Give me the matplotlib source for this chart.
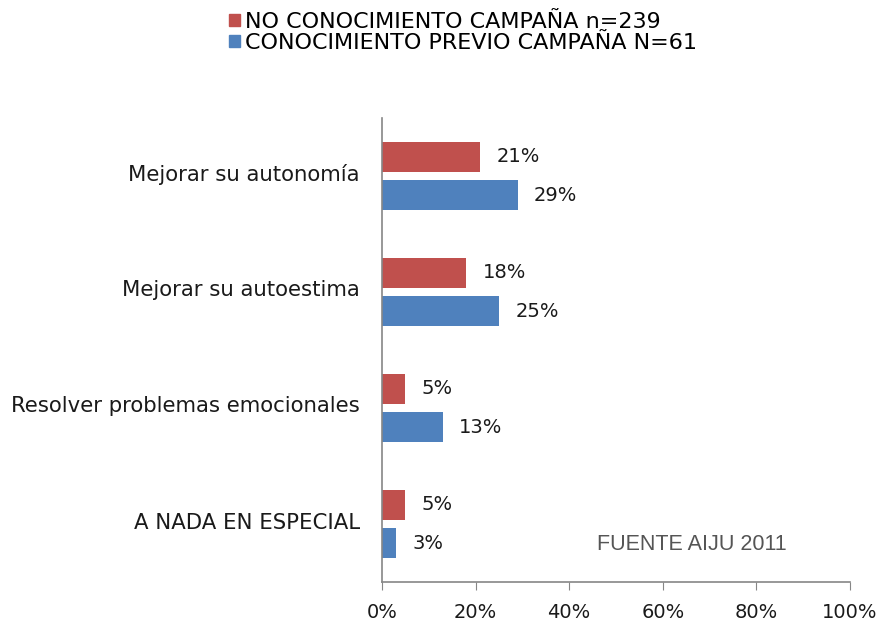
import matplotlib.pyplot as plt
import numpy as np
from matplotlib.patches import Patch

### DATA ###

categories = ["Mejorar su autonomía", "Mejorar su autoestima",
              "Resolver problemas emocionales", "A NADA EN ESPECIAL"]
no_conocimiento = [21, 18, 5, 5]
conocimiento_previo = [29, 25, 13, 3]
series_labels = ["NO CONOCIMIENTO CAMPAÑA n=239", "CONOCIMIENTO PREVIO CAMPAÑA N=61"]
x_ticks = [0, 20, 40, 60, 80, 100]

RED = "#C0504D"
BLUE = "#4F81BD"
GREY = "#868686"
TEXT = "#1a1a1a"

plt.rcParams['font.family'] = ['DejaVu Sans']

### PLOT ###

fig = plt.figure(figsize=(8.8, 6.34), dpi=100)
ax = fig.add_axes([0.434, 0.082, 0.532, 0.732])

y = np.arange(len(categories))
h = 0.26
off = 0.165
ax.barh(y - off, no_conocimiento, height=h, color=RED)
ax.barh(y + off, conocimiento_previo, height=h, color=BLUE)

for yi, v in zip(y, no_conocimiento):
    ax.text(v + 3.5, yi - off, f"{v}%", va="center", ha="left", fontsize=14, color=TEXT)
for yi, v in zip(y, conocimiento_previo):
    ax.text(v + 3.5, yi + off, f"{v}%", va="center", ha="left", fontsize=14, color=TEXT)

ax.set_xlim(0, 100)
ax.set_ylim(3.5, -0.5)
ax.set_xticks(x_ticks, [f"{t}%" for t in x_ticks], fontsize=14, color=TEXT)
ax.set_yticks(y - 0.03, categories, fontsize=15.3, color=TEXT)
ax.tick_params(axis="x", direction="out", length=6, color=GREY, pad=9)
ax.tick_params(axis="y", length=0, pad=16)

for s in ["top", "right"]:
    ax.spines[s].set_visible(False)
for s in ["left", "bottom"]:
    ax.spines[s].set_color(GREY)
    ax.spines[s].set_linewidth(1.2)

ax.text(0.46, 0.08, "FUENTE AIJU 2011", transform=ax.transAxes, fontsize=15.5,
        color="#555555", ha="left", va="center", family=["Liberation Sans Narrow", "Liberation Sans"])

handles = [Patch(color=RED), Patch(color=BLUE)]
fig.legend(handles, series_labels, loc="upper left", bbox_to_anchor=(0.237, 1.013),
           frameon=False, handlelength=0.5, handleheight=0.5,
           handletextpad=0.25, labelspacing=0.05, prop={"size": 16})

fig.savefig("out.png", dpi=100)
